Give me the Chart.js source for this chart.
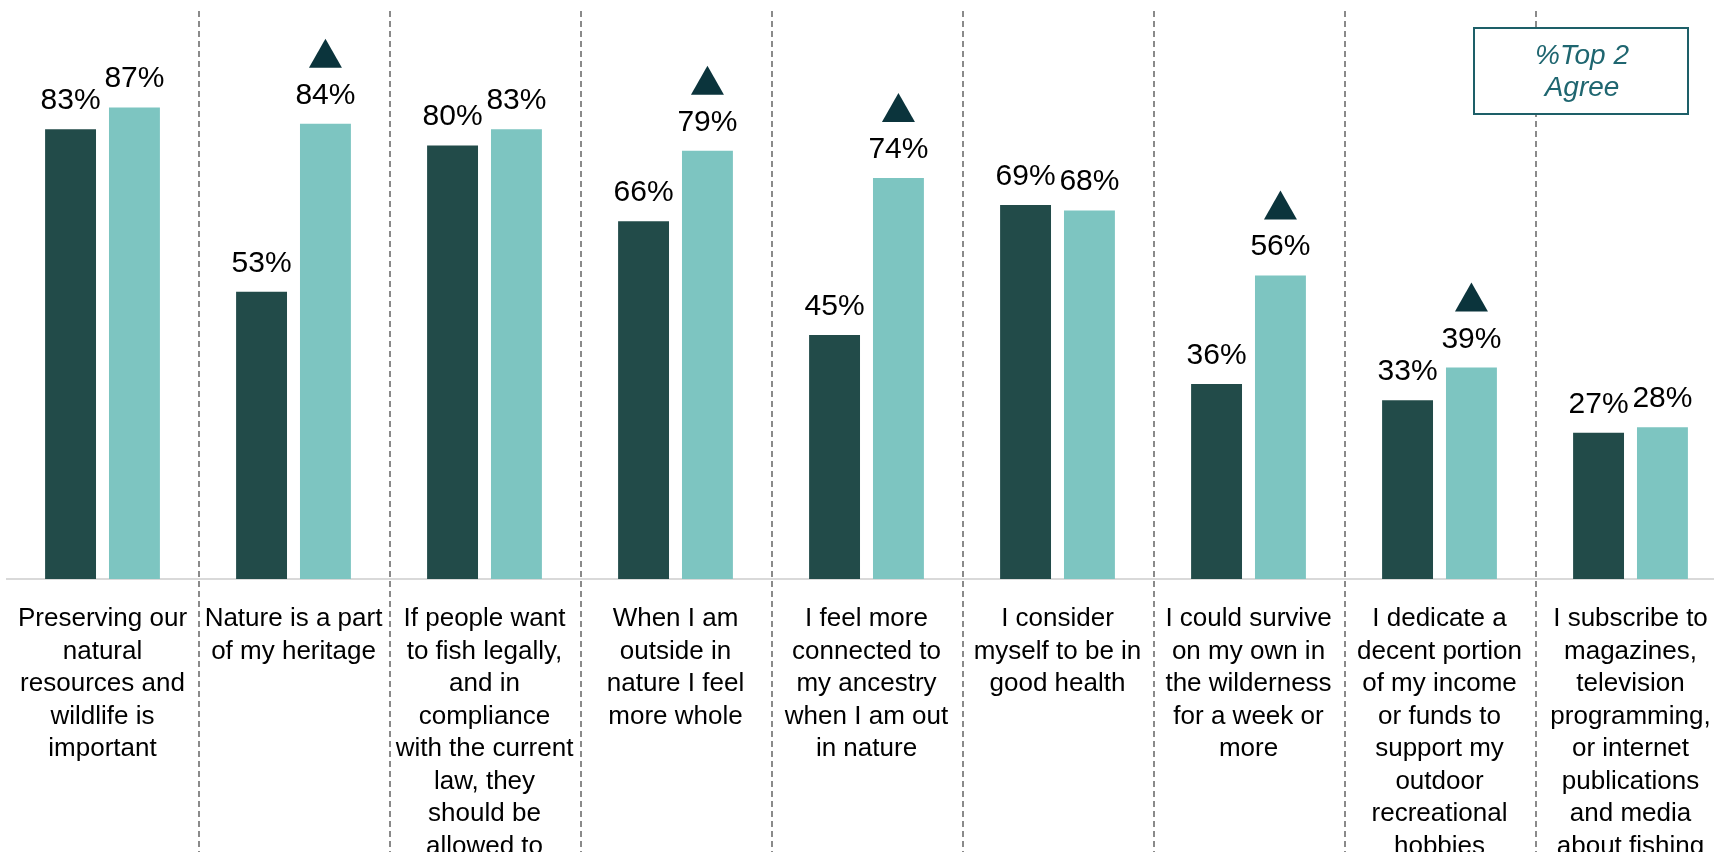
<!DOCTYPE html>
<html>
<head>
<meta charset="utf-8">
<title>Top 2 Agree</title>
<script src="https://cdn.jsdelivr.net/npm/chart.js@4/dist/chart.umd.min.js"></script>
<style>
  html, body { margin: 0; padding: 0; background: #fff; overflow: hidden; }
  #wrap { position: absolute; left: 0; top: 0; width: 1740px; height: 852px; }
</style>
</head>
<body>
<div id="wrap"><canvas id="agreeChart"></canvas></div>
<script>
// Statements (one per category, split into display lines)
const statements = [
    ['Preserving our', 'natural', 'resources and', 'wildlife is', 'important'],
    ['Nature is a part', 'of my heritage'],
    ['If people want', 'to fish legally,', 'and in', 'compliance', 'with the current', 'law, they', 'should be', 'allowed to'],
    ['When I am', 'outside in', 'nature I feel', 'more whole'],
    ['I feel more', 'connected to', 'my ancestry', 'when I am out', 'in nature'],
    ['I consider', 'myself to be in', 'good health'],
    ['I could survive', 'on my own in', 'the wilderness', 'for a week or', 'more'],
    ['I dedicate a', 'decent portion', 'of my income', 'or funds to', 'support my', 'outdoor', 'recreational', 'hobbies'],
    ['I subscribe to', 'magazines,', 'television', 'programming,', 'or internet', 'publications', 'and media', 'about fishing']
];

// % Top 2 agree for the two groups
const groupA = [83, 53, 80, 66, 45, 69, 36, 33, 27];
const groupB = [87, 84, 83, 79, 74, 68, 56, 39, 28];

// significantly higher flags for the second group
const sigHigher = [false, true, false, true, true, false, true, true, false];

const boxLines = ['%Top 2', 'Agree'];

const FONT = '"Liberation Sans", Arial, sans-serif';
const DARK = '#224b49';
const LIGHT = '#7dc5c1';

// dashed separators between the statements
const dividers = {
    id: 'dividers',
    beforeDatasetsDraw(chart) {
        const x = chart.scales.x;
        const ctx = chart.ctx;
        ctx.save();
        ctx.strokeStyle = '#8a8a8a';
        ctx.lineWidth = 2;
        ctx.setLineDash([6, 4]);
        for (let i = 0; i < statements.length - 1; i++) {
            const px = Math.round((x.getPixelForTick(i) + x.getPixelForTick(i + 1)) / 2) + 1;
            ctx.beginPath();
            ctx.moveTo(px, 11);
            ctx.lineTo(px, chart.height);
            ctx.stroke();
        }
        ctx.restore();
    }
};

// value labels and the up-triangles
const barLabels = {
    id: 'barLabels',
    afterDatasetsDraw(chart) {
        const ctx = chart.ctx;
        ctx.save();
        ctx.font = '30px ' + FONT;
        ctx.textAlign = 'center';
        ctx.textBaseline = 'alphabetic';
        chart.data.datasets.forEach((ds, di) => {
            const meta = chart.getDatasetMeta(di);
            meta.data.forEach((bar, i) => {
                ctx.fillStyle = '#000';
                ctx.fillText(ds.data[i] + '%', bar.x, bar.y - 20);
                if (di === 1 && sigHigher[i]) {
                    const base = bar.y - 56;
                    ctx.fillStyle = '#0b343c';
                    ctx.beginPath();
                    ctx.moveTo(bar.x - 16.5, base);
                    ctx.lineTo(bar.x + 16.5, base);
                    ctx.lineTo(bar.x, base - 29);
                    ctx.closePath();
                    ctx.fill();
                }
            });
        });
        ctx.restore();
    }
};

// boxed note in the top right corner
const noteBox = {
    id: 'noteBox',
    afterDraw(chart) {
        const ctx = chart.ctx;
        ctx.save();
        ctx.fillStyle = '#fff';
        ctx.fillRect(1474, 28, 214, 86);
        ctx.strokeStyle = '#1d5f68';
        ctx.lineWidth = 2;
        ctx.strokeRect(1474, 28, 214, 86);
        ctx.fillStyle = '#1f6670';
        ctx.font = 'italic 28px ' + FONT;
        ctx.textAlign = 'center';
        ctx.textBaseline = 'alphabetic';
        ctx.fillText(boxLines[0], 1582, 64);
        ctx.fillText(boxLines[1], 1582, 96);
        ctx.restore();
    }
};

const ctx = document.getElementById('agreeChart').getContext('2d');
new Chart(ctx, {
    type: 'bar',
    data: {
        labels: statements,
        datasets: [
            { label: 'Group A', data: groupA, backgroundColor: DARK },
            { label: 'Group B', data: groupB, backgroundColor: LIGHT }
        ]
    },
    options: {
        responsive: true,
        maintainAspectRatio: false,
        animation: false,
        categoryPercentage: 0.669,
        barPercentage: 0.797,
        layout: { padding: { top: 37, left: 7, right: 14, bottom: 0 } },
        plugins: {
            legend: { display: false },
            tooltip: { enabled: false }
        },
        scales: {
            x: {
                offset: true,
                grid: { display: false },
                border: { display: true, color: '#d9d9d9', width: 2 },
                ticks: {
                    color: '#000',
                    font: { family: FONT, size: 26, lineHeight: 1.25 },
                    padding: 16,
                    maxRotation: 0,
                    minRotation: 0,
                    autoSkip: false
                },
                afterFit(scale) {
                    scale.height = 852 - 579;
                }
            },
            y: {
                display: false,
                min: 0,
                max: 100
            }
        }
    },
    plugins: [dividers, barLabels, noteBox]
});
</script>
</body>
</html>
